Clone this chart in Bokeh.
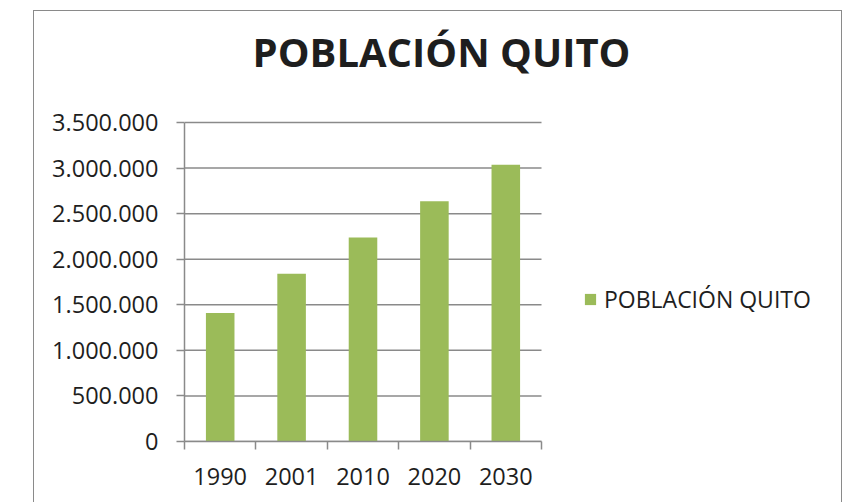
from bokeh.plotting import figure
from bokeh.models import (Range1d, FixedTicker, Legend, LegendItem, Label,
                          ColumnDataSource, InlineStyleSheet)
from bokeh.embed import file_html
from bokeh.resources import INLINE

# ---- data ----
years = ["1990", "2001", "2010", "2020", "2030"]
population = [1409845, 1839853, 2239191, 2637000, 3037000]
y_ticks = [0, 500000, 1000000, 1500000, 2000000, 2500000, 3000000, 3500000]
chart_title = "POBLACIÓN QUITO"
series_name = "POBLACIÓN QUITO"

# ---- layout constants (pixels) ----
W, H = 849, 502
LEFT, BOTTOM = 184, 61          # frame starts at x=184, ends at y=441
PLOT_W, PLOT_H = 357, 319       # size of the bar/grid area inside the frame
frame_w, frame_h = W - LEFT, H - BOTTOM

# ---- derived ----
n = len(years)
positions = [i + 0.5 for i in range(n)]
boundaries = [float(i) for i in range(n + 1)]
y_labels = {t: f"{t:,}".replace(",", ".") for t in y_ticks}
x_end = n * frame_w / PLOT_W
y_end = y_ticks[-1] * frame_h / PLOT_H

GRAY = "#8a8a8a"
TEXT = "#1e1e1e"
FONT = "Open Sans"

p = figure(width=W, height=H, output_backend="svg", toolbar_location=None,
           title=None, x_range=Range1d(0, x_end), y_range=Range1d(0, y_end),
           min_border=0, min_border_left=LEFT, min_border_bottom=BOTTOM)
p.outline_line_color = None
p.background_fill_color = "white"
p.border_fill_color = "white"

# outer chart border (decorative frame of the whole chart)
p.stylesheets = [InlineStyleSheet(css="""
:host::after {
  content: ""; position: absolute; left: 33px; top: 10px;
  width: 809px; height: 492px; box-sizing: border-box;
  border: 1.5px solid #8a8a8a; border-bottom: none;
  pointer-events: none; z-index: 10;
}
""")]

# horizontal grid lines limited to the plot area
p.xgrid.visible = False
p.ygrid.visible = False
p.segment(x0=[0] * len(y_ticks), x1=[n] * len(y_ticks), y0=y_ticks, y1=y_ticks,
          line_color=GRAY, line_width=1.5)

src = ColumnDataSource(dict(x=positions, top=population, year=years))
r = p.vbar(x="x", top="top", width=0.4, source=src,
           fill_color="#9BBB59", line_color=None)

# y axis
ya = p.yaxis[0]
ya.bounds = (0, y_ticks[-1])
ya.ticker = FixedTicker(ticks=y_ticks)
ya.major_label_overrides = y_labels
ya.major_tick_out = 8
ya.major_tick_in = 0
ya.major_tick_line_color = GRAY
ya.major_tick_line_width = 1.5
ya.minor_tick_line_color = None
ya.axis_line_color = GRAY
ya.axis_line_width = 1.5
ya.major_label_standoff = 18
ya.major_label_text_font = FONT
ya.major_label_text_font_size = "23.5px"
ya.major_label_text_color = TEXT

# x axis
xa = p.xaxis[0]
xa.bounds = (0, n)
xa.ticker = FixedTicker(ticks=positions, minor_ticks=boundaries)
xa.major_label_overrides = {pos: yr for pos, yr in zip(positions, years)}
xa.major_tick_line_color = None
xa.major_tick_out = 0
xa.major_tick_in = 0
xa.minor_tick_line_color = GRAY
xa.minor_tick_line_width = 1.5
xa.minor_tick_out = 8
xa.minor_tick_in = 0
xa.axis_line_color = GRAY
xa.axis_line_width = 1.5
xa.major_label_standoff = 18
xa.major_label_text_font = FONT
xa.major_label_text_font_size = "23.5px"
xa.major_label_text_color = TEXT

# title
p.add_layout(Label(x=257, y=390, x_units="screen", y_units="screen",
                   text=chart_title, text_align="center",
                   text_baseline="alphabetic", text_font=FONT,
                   text_font_style="bold", text_font_size="40px",
                   text_color=TEXT))

# legend
legend = Legend(items=[LegendItem(label=series_name, renderers=[r])],
                location=(399, 126), glyph_width=14, glyph_height=14,
                label_standoff=7, padding=0, margin=0,
                border_line_color=None, background_fill_alpha=0,
                label_text_font=FONT, label_text_font_size="23px",
                label_text_color=TEXT)
p.add_layout(legend)

open("out.html", "w").write(file_html(p, INLINE))
